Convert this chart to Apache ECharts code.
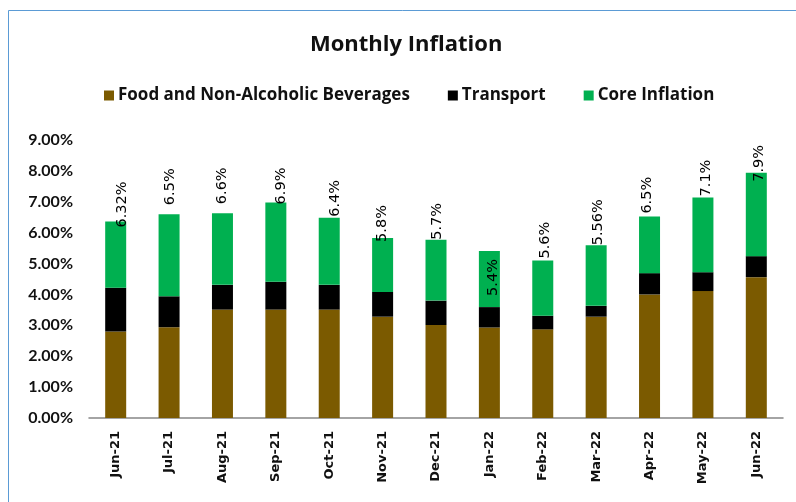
<!DOCTYPE html>
<html>
<head>
<meta charset="utf-8">
<script src="https://cdn.jsdelivr.net/npm/echarts@6/dist/echarts.min.js"></script>
<style>html,body{margin:0;padding:0;background:#fff}#c{width:796px;height:502px}</style>
</head>
<body>
<div id="c"></div>
<script>
const categories = ["Jun-21","Jul-21","Aug-21","Sep-21","Oct-21","Nov-21","Dec-21","Jan-22","Feb-22","Mar-22","Apr-22","May-22","Jun-22"];
const foodValues = [2.80,2.94,3.51,3.51,3.51,3.28,3.01,2.93,2.87,3.28,4.00,4.11,4.56];
const transportValues = [1.42,1.00,0.80,0.90,0.80,0.80,0.79,0.66,0.44,0.35,0.69,0.61,0.68];
const coreValues = [2.14,2.66,2.32,2.57,2.17,1.75,1.97,1.82,1.79,1.96,1.83,2.42,2.70];
const totalLabels = ["6.32%","6.5%","6.6%","6.9%","6.4%","5.8%","5.7%","5.4%","5.6%","5.56%","6.5%","7.1%","7.9%"];
const yTicks = [0,1,2,3,4,5,6,7,8,9];

// label nudges (layout only): [dx, dy] of text start relative to bar top centre
const labelNudge = [[7,6],[1,-9],[0,-9],[5,2],[6,-1],[0,4],[1,0],[4,45],[2,-2],[2,0],[-2,-3],[3,-1],[3,9]];
const BW = 21;

const chart = echarts.init(document.getElementById('c'), null, {renderer:'canvas'});
const coreData = coreValues.map((v,i)=>({
  value: v,
  label: {position: [BW/2 + labelNudge[i][0], labelNudge[i][1]]}
}));

chart.setOption({
  animation: false,
  backgroundColor: '#ffffff',
  title: {
    text: 'Monthly Inflation',
    left: 305, top: 29,
    textStyle: {fontFamily: 'Open Sans', fontSize: 22, fontWeight: 'bold', color: '#111'}
  },
  legend: {
    top: 82, left: 99,
    itemWidth: 10, itemHeight: 10, itemGap: 38,
    icon: 'rect',
    textStyle: {fontFamily: 'Open Sans', fontSize: 17, fontWeight: 'bold', color: '#111', padding: [0,0,0,-1]},
    data: ['Food and Non-Alcoholic Beverages','Transport','Core Inflation']
  },
  grid: {left: 89, right: 13, top: 140, bottom: 84},
  xAxis: {
    type: 'category',
    data: categories,
    axisLine: {lineStyle: {color: '#868686', width: 1.5}},
    axisTick: {show: false},
    axisLabel: {rotate: 90, margin: 13, fontFamily: 'DejaVu Sans', fontWeight: 'bold', fontSize: 13, color: '#111'}
  },
  yAxis: {
    type: 'value', min: 0, max: 9, interval: 1,
    splitLine: {show: false},
    axisLine: {show: false},
    axisTick: {show: false},
    axisLabel: {
      margin: 16, fontFamily: 'Lato', fontWeight: 'bold', fontSize: 16, color: '#111',
      formatter: v => yTicks.includes(v) ? v.toFixed(2) + '%' : ''
    }
  },
  series: [
    {name: 'Food and Non-Alcoholic Beverages', type: 'bar', stack: 't', barWidth: BW, data: foodValues, itemStyle: {color: '#7B5A00'}},
    {name: 'Transport', type: 'bar', stack: 't', barWidth: BW, data: transportValues, itemStyle: {color: '#000000'}},
    {name: 'Core Inflation', type: 'bar', stack: 't', barWidth: BW, data: coreData, itemStyle: {color: '#00B050'},
      label: {
        show: true, rotate: 90, align: 'left', verticalAlign: 'middle',
        fontFamily: 'DejaVu Sans', fontSize: 14.5, color: '#000',
        formatter: p => totalLabels[p.dataIndex]
      }
    }
  ],
  graphic: [
    {type: 'line', shape: {x1: 8.5, y1: 10.5, x2: 796, y2: 10.5}, style: {stroke: '#5B9BD5', lineWidth: 1}},
    {type: 'line', shape: {x1: 8.5, y1: 10.5, x2: 8.5, y2: 502}, style: {stroke: '#5B9BD5', lineWidth: 1}}
  ]
});
</script>
</body>
</html>
